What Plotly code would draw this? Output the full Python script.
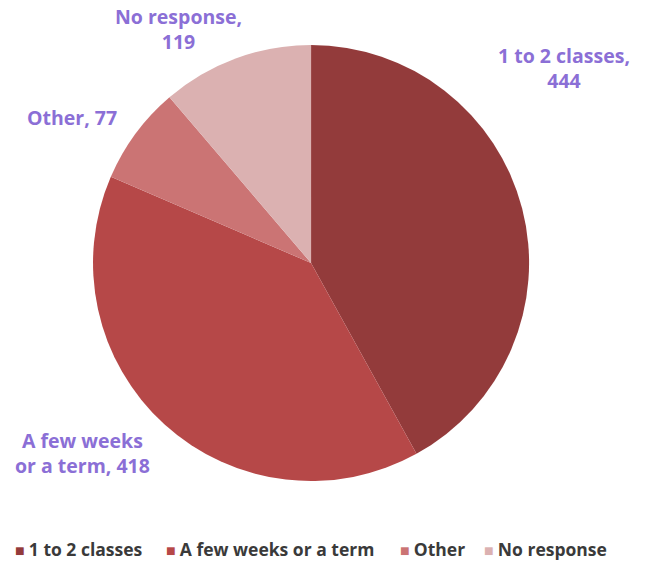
import plotly.graph_objects as go

# Survey responses: how long the respondent has been involved
categories = ["1 to 2 classes", "A few weeks or a term", "Other", "No response"]
counts = [444, 418, 77, 119]
slice_colors = ["#933b3b", "#b64848", "#cb7474", "#dbb1b1"]

label_color = "#8b6fd6"
legend_text_color = "#3a3a3a"
font_family = "'Open Sans', 'Noto Sans', sans-serif"

W, H = 646, 562

fig = go.Figure(
    go.Pie(
        labels=categories,
        values=counts,
        sort=False,
        direction="clockwise",
        rotation=0,
        marker=dict(colors=slice_colors, line=dict(width=0)),
        textinfo="none",
        hoverinfo="label+value",
        domain=dict(x=[0.144, 0.819], y=[0.144, 0.92]),
        showlegend=False,
    )
)

# Callout labels ("category, count") placed around the pie
label_positions = [
    (564, 68),   # 1 to 2 classes
    (82, 453),   # A few weeks or a term
    (72, 117),   # Other
    (178, 29),   # No response
]
label_breaks = [True, False, False, True]
for (px, py), cat, n, brk in zip(label_positions, categories, counts, label_breaks):
    if cat == "A few weeks or a term":
        txt = f"A few weeks<br>or a term, {n}"
    elif brk:
        txt = f"{cat},<br>{n}"
    else:
        txt = f"{cat}, {n}"
    fig.add_annotation(
        x=px / W,
        y=1 - py / H,
        xref="paper",
        yref="paper",
        xanchor="center",
        yanchor="middle",
        text=f"<b>{txt}</b>",
        showarrow=False,
        align="center",
        font=dict(family=font_family, size=19.5, color=label_color),
    )

# Compact legend row beneath the pie: small colour square + category name
legend_x = [13, 164, 398, 482]
for lx, cat, col in zip(legend_x, categories, slice_colors):
    fig.add_annotation(
        x=lx / W,
        y=1 - 549 / H,
        xref="paper",
        yref="paper",
        xanchor="left",
        yanchor="middle",
        text=f"<span style='color:{col};font-size:16px'>■ </span><b>{cat}</b>",
        showarrow=False,
        font=dict(family=font_family, size=17.5, color=legend_text_color),
    )

fig.update_layout(
    width=W,
    height=H,
    margin=dict(l=0, r=0, t=0, b=0),
    paper_bgcolor="white",
    plot_bgcolor="white",
    showlegend=False,
)

fig.write_html("out.html")
